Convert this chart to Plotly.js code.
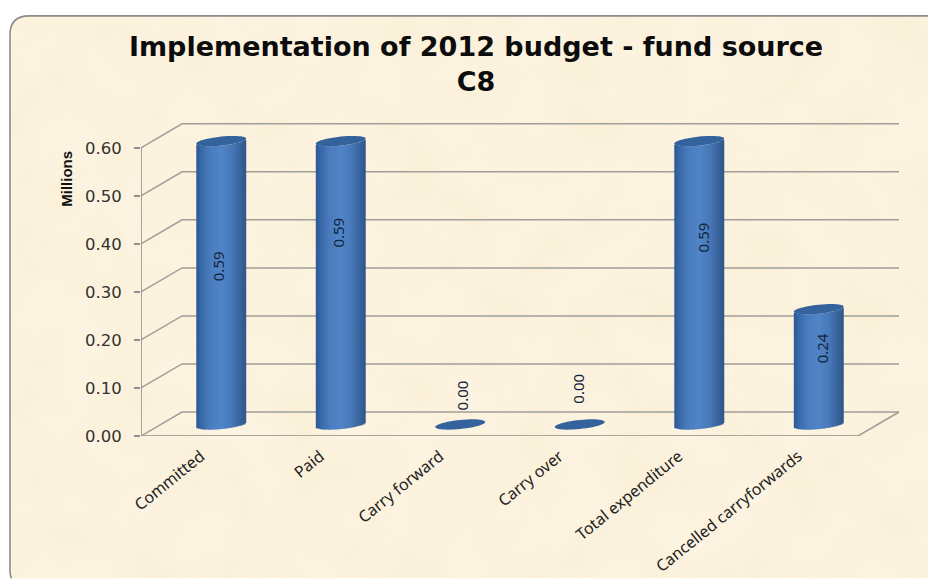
<!DOCTYPE html>
<html>
<head>
<meta charset="utf-8">
<script src="https://cdn.plot.ly/plotly-3.0.1.min.js"></script>
<style>html,body{margin:0;padding:0;background:#fff}#chart{width:928px;height:579px}</style>
</head>
<body>
<div id="chart"></div>
<script>
// --- data ---
const categories = ['Committed','Paid','Carry forward','Carry over','Total expenditure','Cancelled carryforwards'];
const values = [0.59,0.59,0.00,0.00,0.59,0.24];
const valueLabels = ['0.59','0.59','0.00','0.00','0.59','0.24'];
const yTicks = [0,0.1,0.2,0.3,0.4,0.5,0.6];
const yTickLabels = ['0.00','0.10','0.20','0.30','0.40','0.50','0.60'];

// --- label placement (style, not data) ---
const labelHeights = [0.354,0.423,0.085,0.098,0.414,0.182];
const labelShiftPx = [-3,-3,2,-2,4,3];

// --- projection of the 3-D box, in axis units ---
const depthX = 0.343, depthY = 0.05;
const halfW = 0.209, ellH = 0.0094, ellTilt = 0.0052;
const xRange = [-0.5, 5.893], yRange = [0, 0.66];
const idx = categories.map((_, i) => i);
const xMin = -0.5, xMax = categories.length - 0.5;
const baseY = depthY * 0.48;

const wallColor = '#a09f98', axisColor = '#8e8e8a';
const shapes = [];
yTicks.forEach(v => {
  shapes.push({type:'path', layer:'below', xref:'x', yref:'y',
    path:`M${xMin},${v} L${xMin+depthX},${v+depthY} L${xMax+depthX},${v+depthY}`,
    line:{color:wallColor,width:1.5}});
});
shapes.push({type:'line', layer:'below', xref:'x', yref:'y',
  x0:xMax, y0:0, x1:xMax+depthX, y1:depthY, line:{color:wallColor,width:1.5}});

// --- cylinder side shading as thin overlapping bar strips ---
const stops = [[-1,[44,88,148]],[-0.8,[58,105,168]],[-0.45,[74,124,190]],[0,[80,133,199]],
               [0.4,[72,121,184]],[0.72,[58,102,160]],[1,[48,86,136]]];
function shade(u){
  for(let i=1;i<stops.length;i++){
    if(u<=stops[i][0]){
      const a=stops[i-1], b=stops[i], t=(u-a[0])/(b[0]-a[0]);
      const c=a[1].map((q,k)=>Math.round(q+(b[1][k]-q)*t));
      return `rgb(${c[0]},${c[1]},${c[2]})`;
    }
  }
  return 'rgb(48,86,136)';
}
const traces = [];
const N = 25;
for(let s=0;s<N;s++){
  const stripW = 2*halfW/N;
  const uMid = -1 + (2*s+1)/N;
  const w = s===N-1 ? stripW : stripW*1.5;
  traces.push({
    type:'bar', x:idx.map(i=>i+depthX/2), y:values,
    base: values.map(()=>baseY - ellH*Math.sqrt(Math.max(0,1-uMid*uMid)) + ellTilt*uMid),
    width: values.map(()=>w),
    offset: values.map(()=>-halfW + s*stripW),
    marker:{color:shade(uMid), line:{width:0}},
    showlegend:false, hoverinfo:'skip'
  });
}
// cylinder caps, tilted ellipses at each value
values.forEach((v,i)=>{
  const cx=i+depthX/2, cy=v+baseY;
  let p='';
  for(let k=0;k<=48;k++){
    const t=k/48*2*Math.PI;
    const x=cx+halfW*Math.cos(t), y=cy+ellH*Math.sin(t)+ellTilt*Math.cos(t);
    p+=(k?'L':'M')+x+','+y+' ';
  }
  shapes.push({type:'path', layer:'above', xref:'x', yref:'y', path:p+'Z',
    fillcolor:'#34629c', line:{width:0}});
});

// axis frame: vertical axis, floor edge, tick marks
const fx=[xMin,xMin,null,xMin,xMax,null], fy=[0,0.6,null,0,0,null];
for(let i=0;i<=categories.length;i++){ fx.push(xMin+i,xMin+i,null); fy.push(0,-0.0104,null); }
traces.push({type:'scatter',mode:'lines',x:fx,y:fy,cliponaxis:false,
  line:{color:axisColor,width:1.6},showlegend:false,hoverinfo:'skip'});

const annotations = values.map((v,i)=>({
  x:i+depthX/2, y:labelHeights[i], xref:'x', yref:'y', text:valueLabels[i], textangle:-90,
  showarrow:false, xshift:labelShiftPx[i],
  font:{family:'"Noto Sans", sans-serif', size:15, color:'#14243c'}
}));
annotations.push({xref:'paper',yref:'paper',x:-0.098,y:0.812,text:'<b>Millions</b>',textangle:-90,
  showarrow:false,xanchor:'center',yanchor:'middle',
  font:{family:'"Liberation Sans",sans-serif',size:15,color:'#111'}});

// parchment card behind the chart
const cardPath = 'M950 16 H29 Q10 16 10 35 V572 Q10 582 20 590 H950 Z';
const cardSvg = `<svg xmlns="http://www.w3.org/2000/svg" width="928" height="579" viewBox="0 0 928 579">
<defs><filter id="n" x="0" y="0" width="100%" height="100%">
<feTurbulence type="fractalNoise" baseFrequency="0.018" numOctaves="3" seed="7"/>
<feColorMatrix type="matrix" values="0 0 0 0 0.94  0 0 0 0 0.84  0 0 0 0 0.62  1.5 0 0 0 -0.55"/>
<feComposite in2="SourceAlpha" operator="in"/></filter></defs>
<path d="${cardPath}" fill="#fcf3e0"/>
<path d="${cardPath}" fill="#000" filter="url(#n)" opacity="0.55"/>
<path d="${cardPath}" fill="none" stroke="#8c8c88" stroke-width="1.6"/>
</svg>`;

const layout = {
  width:928, height:579, autosize:false,
  paper_bgcolor:'#ffffff', plot_bgcolor:'rgba(0,0,0,0)',
  margin:{l:141,r:23,t:119.2,b:142.5,pad:0},
  barmode:'overlay', showlegend:false,
  title:{text:'<b>Implementation of 2012 budget - fund source<br>C8</b>',
    x:0.513, xanchor:'center', xref:'container', y:0.903, yanchor:'middle', yref:'container',
    font:{family:'"DejaVu Sans", sans-serif', size:27, color:'#0c0c0c'}},
  xaxis:{range:xRange, tickmode:'array', tickvals:idx, ticktext:categories, tickangle:-39,
    showgrid:false, zeroline:false, showline:false, ticks:'', ticklabelstandoff:7,
    tickfont:{family:'"Noto Sans", sans-serif', size:16, color:'#222'}, automargin:false},
  yaxis:{range:yRange, tickmode:'array', tickvals:yTicks, ticktext:yTickLabels,
    showgrid:false, zeroline:false, showline:false, ticks:'outside', ticklen:6, tickwidth:1.6,
    tickcolor:axisColor, ticklabelstandoff:9,
    tickfont:{family:'"DejaVu Sans", sans-serif', size:16.5, color:'#333'}, automargin:false},
  shapes, annotations,
  images:[{source:'data:image/svg+xml;charset=utf-8,'+encodeURIComponent(cardSvg),
    xref:'paper',yref:'paper',x:-141/764,y:1+119.2/317.3,sizex:928/764,sizey:579/317.3,
    sizing:'stretch',xanchor:'left',yanchor:'top',layer:'below'}]
};
Plotly.newPlot('chart',traces,layout,{displayModeBar:false,staticPlot:true});
</script>
</body>
</html>
